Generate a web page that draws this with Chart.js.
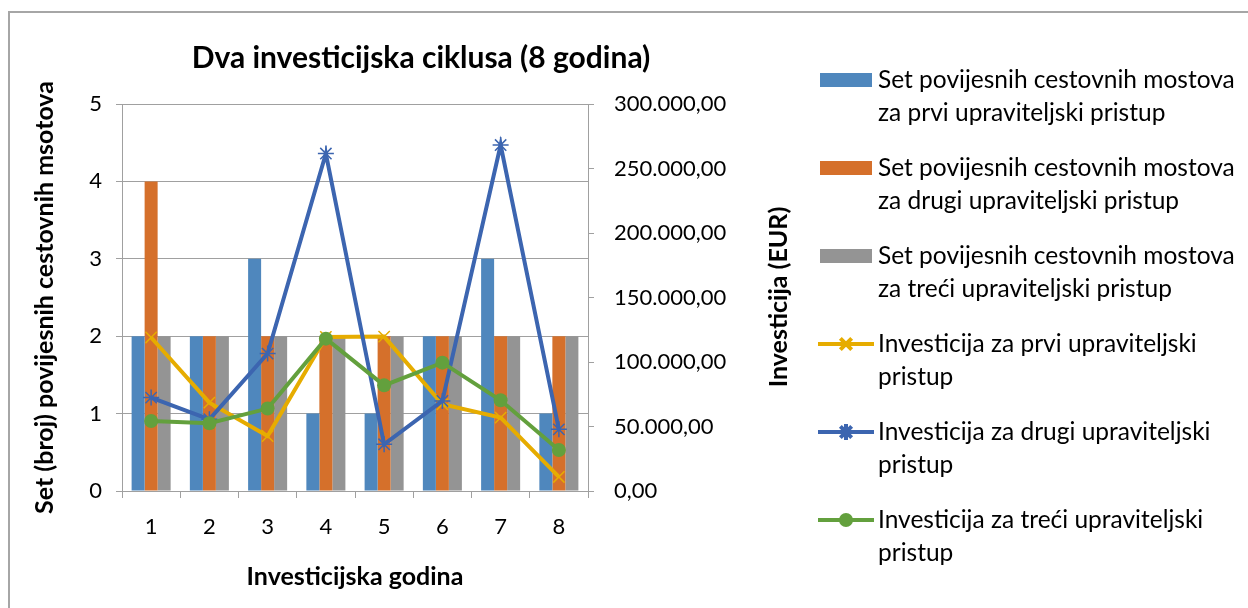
<!DOCTYPE html>
<html>
<head>
<meta charset="utf-8">
<script src="https://cdn.jsdelivr.net/npm/chart.js@4.4.1/dist/chart.umd.min.js"></script>
<style>
  html,body{margin:0;padding:0;background:#fff;}
  #wrap{position:relative;width:1248px;height:608px;}
</style>
</head>
<body>
<div id="wrap"><canvas id="c"></canvas></div>
<script>
const godine=['1','2','3','4','5','6','7','8'];
const setPrvi=[2,2,3,1,1,2,3,1];
const setDrugi=[4,2,2,2,2,2,2,2];
const setTreci=[2,2,2,2,2,2,2,2];
const invPrvi=[119000,68500,42600,119400,119700,67200,56900,10900];
const invDrugi=[72400,55600,106500,261600,36200,69800,268200,47800];
const invTreci=[54300,52500,63900,118100,81900,99500,70300,31800];
const lijeviTicks=[0,1,2,3,4,5];
const desniTicks=[0,50000,100000,150000,200000,250000,300000];

const FONT='Lato';
const C={blue:'#4F87BD',orange:'#D5702B',gray:'#949494',yellow:'#E6AC00',line:'#3C65B0',green:'#63A03D',grid:'#A0A0A0'};

const fmt=v=>{
  const p=v.toFixed(2).split('.');
  return p[0].replace(/\B(?=(\d{3})+(?!\d))/g,'.')+','+p[1];
};

// naslov, okvir, desni naslov osi i legenda
const extras={
  id:'extras',
  afterDraw(chart){
    const ctx=chart.ctx;
    ctx.save();
    ctx.strokeStyle='#A6A6A6';ctx.lineWidth=2;
    ctx.beginPath();ctx.moveTo(9,608);ctx.lineTo(9,12);ctx.lineTo(1248,12);ctx.stroke();

    ctx.fillStyle='#000';ctx.textAlign='center';ctx.textBaseline='middle';
    ctx.font='bold 30px '+FONT;
    ctx.fillText('Dva investicijska ciklusa (8 godina)',421,58);

    ctx.save();
    ctx.translate(779,297);ctx.rotate(-Math.PI/2);
    ctx.font='bold 25px '+FONT;
    ctx.fillText('Investicija (EUR)',0,0);
    ctx.restore();

    ctx.font='24.5px '+FONT;ctx.textAlign='left';
    chart.data.datasets.forEach((ds,i)=>{
      const y=80+i*88;
      if(ds.type==='line'){
        ctx.strokeStyle=ds.borderColor;ctx.lineWidth=4;
        ctx.beginPath();ctx.moveTo(818,y);ctx.lineTo(874,y);ctx.stroke();
        if(ds.pointStyle==='circle'){ctx.fillStyle=ds.borderColor;ctx.beginPath();ctx.arc(846,y,7,0,Math.PI*2);ctx.fill();}
        else Chart.helpers.drawPoint(ctx,{pointStyle:ds.pointStyle,radius:8,borderWidth:1.5},846,y);
      }else{
        ctx.fillStyle=ds.backgroundColor;ctx.fillRect(820,y-7,52,14);
      }
      ctx.fillStyle='#000';
      const words=ds.label.split(' ');
      let lines=[],cur='';
      words.forEach(w=>{
        const t=cur?cur+' '+w:w;
        if(ctx.measureText(t).width>368&&cur){lines.push(cur);cur=w;}else cur=t;
      });
      lines.push(cur);
      lines.forEach((l,k)=>ctx.fillText(l,878,y+k*33));
    });
    ctx.restore();
  }
};

new Chart(document.getElementById('c'),{
  data:{labels:godine,datasets:[
    {type:'bar',label:'Set povijesnih cestovnih mostova za prvi upraviteljski pristup',data:setPrvi,backgroundColor:C.blue,yAxisID:'y',order:10},
    {type:'bar',label:'Set povijesnih cestovnih mostova za drugi upraviteljski pristup',data:setDrugi,backgroundColor:C.orange,yAxisID:'y',order:10},
    {type:'bar',label:'Set povijesnih cestovnih mostova za treći upraviteljski pristup',data:setTreci,backgroundColor:C.gray,yAxisID:'y',order:10},
    {type:'line',label:'Investicija za prvi upraviteljski pristup',data:invPrvi,borderColor:C.yellow,backgroundColor:C.yellow,
      pointStyle:'crossRot',pointRadius:8,pointBorderWidth:1.5,borderWidth:4,yAxisID:'y1',order:3},
    {type:'line',label:'Investicija za drugi upraviteljski pristup',data:invDrugi,borderColor:C.line,backgroundColor:C.line,
      pointStyle:'star',pointRadius:8,pointBorderWidth:1.5,borderWidth:4,yAxisID:'y1',order:2},
    {type:'line',label:'Investicija za treći upraviteljski pristup',data:invTreci,borderColor:C.green,backgroundColor:C.green,
      pointStyle:'circle',pointRadius:7,pointBorderWidth:0,borderWidth:4,yAxisID:'y1',order:1}
  ]},
  options:{responsive:true,maintainAspectRatio:false,animation:false,
    layout:{padding:{top:104,left:0,right:0,bottom:0}},
    datasets:{bar:{categoryPercentage:0.67,barPercentage:1}},
    plugins:{legend:{display:false},title:{display:false},tooltip:{enabled:false}},
    scales:{
      x:{afterFit:s=>{s.height=117;},
        grid:{offset:true,drawOnChartArea:false,tickLength:7,color:C.grid},border:{color:C.grid},
        ticks:{font:{family:FONT,size:22},color:'#000',padding:16},
        title:{display:true,text:'Investicijska godina',font:{family:FONT,size:25,weight:'bold'},color:'#000',padding:{top:0,bottom:16}}},
      y:{position:'left',min:0,max:5,afterFit:s=>{s.width=122;},
        afterBuildTicks:s=>{s.ticks=lijeviTicks.map(v=>({value:v}));},
        grid:{color:C.grid,tickLength:6},border:{color:C.grid},
        ticks:{font:{family:FONT,size:22},color:'#000',padding:14},
        title:{display:true,text:'Set (broj) povijesnih cestovnih msotova',font:{family:FONT,size:25,weight:'bold'},color:'#000',padding:{top:30,bottom:0}}},
      y1:{position:'right',min:0,max:300000,afterFit:s=>{s.width=660;},
        afterBuildTicks:s=>{s.ticks=desniTicks.map(v=>({value:v}));},
        grid:{drawOnChartArea:false,tickLength:6,color:C.grid},border:{color:C.grid},
        ticks:{font:{family:FONT,size:22},color:'#000',padding:20,callback:v=>fmt(v)}}
    }
  },
  plugins:[extras]
});
</script>
</body>
</html>
